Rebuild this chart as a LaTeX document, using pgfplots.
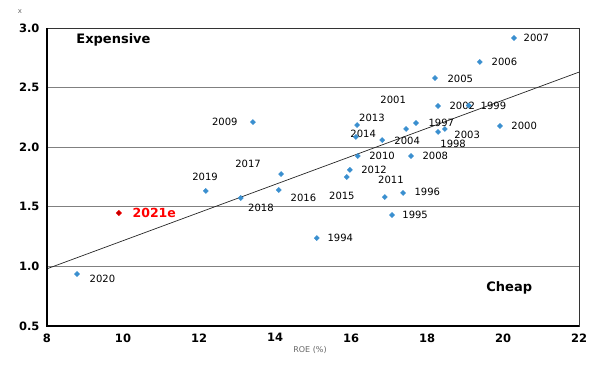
\documentclass[border=0pt]{standalone}
\usepackage{pgfplots}
\pgfplotsset{compat=1.18}
\usepackage{fontspec}
\setmainfont{DejaVu Sans}
\definecolor{ptblue}{HTML}{3A8FCF}
\definecolor{gridgray}{HTML}{808080}
\begin{document}
\begin{tikzpicture}
\begin{axis}[name=ax,
  scale only axis, width=532pt, height=298pt,
  xmin=8, xmax=22, ymin=0.5, ymax=3.0,
  xtick={8,10,...,22}, ytick={0.5,1.0,...,3.0},
  major tick length=0pt,
  ymajorgrids, grid style={gridgray, line width=0.8pt},
  axis line style={draw=black!80, line width=0.6pt},
  /pgf/number format/assume math mode=true,
  ticklabel style={font=\fontsize{11.5}{13}\selectfont\bfseries},
  yticklabel style={/pgf/number format/fixed, /pgf/number format/fixed zerofill, /pgf/number format/precision=1, xshift=-4pt},
  xticklabel style={yshift=-4pt},
  clip=false,
  every node/.append style={font=\fontsize{12.3}{14}\selectfont, inner sep=0pt},
]
\addplot[black!85, line width=0.7pt, forget plot] coordinates {(8,0.98) (22,2.63)};
\addplot[only marks, mark=square*, mark size=1.8pt, color=ptblue, mark options={rotate=45}] coordinates {
(20.29,2.916) (19.39,2.715) (18.21,2.58) (18.29,2.346) (19.10,2.35)
(17.45,2.153) (17.71,2.203) (18.47,2.153) (18.29,2.128) (19.92,2.178)
(16.16,2.186) (16.13,2.086) (16.82,2.06) (16.18,1.926) (17.58,1.926)
(15.97,1.81) (16.89,1.582) (15.89,1.75) (14.10,1.641) (14.16,1.775)
(12.18,1.633) (13.10,1.574) (13.42,2.211) (17.37,1.616) (17.08,1.431)
(15.10,1.238) (8.79,0.936)
};
\addplot[only marks, mark=square*, mark size=1.9pt, color=red, mark options={rotate=45, fill=red!75!black}] coordinates {(9.89,1.448)};
\node[anchor=west] at (axis cs:20.45,2.916) {2007};
\node[anchor=west] at (axis cs:19.61,2.715) {2006};
\node[anchor=west] at (axis cs:18.45,2.572) {2005};
\node[anchor=west] at (axis cs:18.50,2.346) {2002};
\node[anchor=west] at (axis cs:19.32,2.346) {1999};
\node at (axis cs:17.11,2.396) {2001};
\node at (axis cs:16.55,2.245) {2013};
\node at (axis cs:16.32,2.111) {2014};
\node[anchor=west] at (axis cs:17.95,2.203) {1997};
\node[anchor=west] at (axis cs:17.05,2.052) {2004};
\node[anchor=west] at (axis cs:18.63,2.102) {2003};
\node[anchor=west] at (axis cs:18.26,2.027) {1998};
\node[anchor=west] at (axis cs:20.13,2.178) {2000};
\node[anchor=west] at (axis cs:16.39,1.926) {2010};
\node[anchor=west] at (axis cs:17.79,1.926) {2008};
\node[anchor=west] at (axis cs:16.18,1.809) {2012};
\node at (axis cs:17.05,1.725) {2011};
\node at (axis cs:15.76,1.591) {2015};
\node[anchor=west] at (axis cs:14.32,1.574) {2016};
\node at (axis cs:13.29,1.859) {2017};
\node at (axis cs:12.16,1.75) {2019};
\node at (axis cs:13.63,1.49) {2018};
\node at (axis cs:12.68,2.211) {2009};
\node[anchor=west] at (axis cs:17.58,1.624) {1996};
\node[anchor=west] at (axis cs:17.26,1.431) {1995};
\node[anchor=west] at (axis cs:15.29,1.238) {1994};
\node[anchor=west] at (axis cs:9.03,0.894) {2020};
\node[anchor=west, text=red, font=\fontsize{12.5}{14}\selectfont\bfseries] at (axis cs:10.16,1.448) {2021e};
\node[anchor=west, font=\fontsize{13}{15}\selectfont\bfseries] at (axis cs:8.68,2.9) {Expensive};
\node[anchor=west, font=\fontsize{13}{15}\selectfont\bfseries] at (axis cs:19.47,0.819) {Cheap};
\draw[black, line width=1.3pt] (rel axis cs:0,1) -- (rel axis cs:0,0) -- (rel axis cs:1,0);
\end{axis}
\node[font=\fontsize{7}{8}\selectfont, text=black!60] at ([shift={(-27pt,16pt)}]ax.north west) {x};
\node[font=\fontsize{8}{9}\selectfont, text=black!60] at ([shift={(263pt,-24pt)}]ax.south west) {ROE (\%)};
\path ([shift={(-47pt,-38pt)}]ax.south west) rectangle ([shift={(22pt,28pt)}]ax.north east);
\end{tikzpicture}
\end{document}
